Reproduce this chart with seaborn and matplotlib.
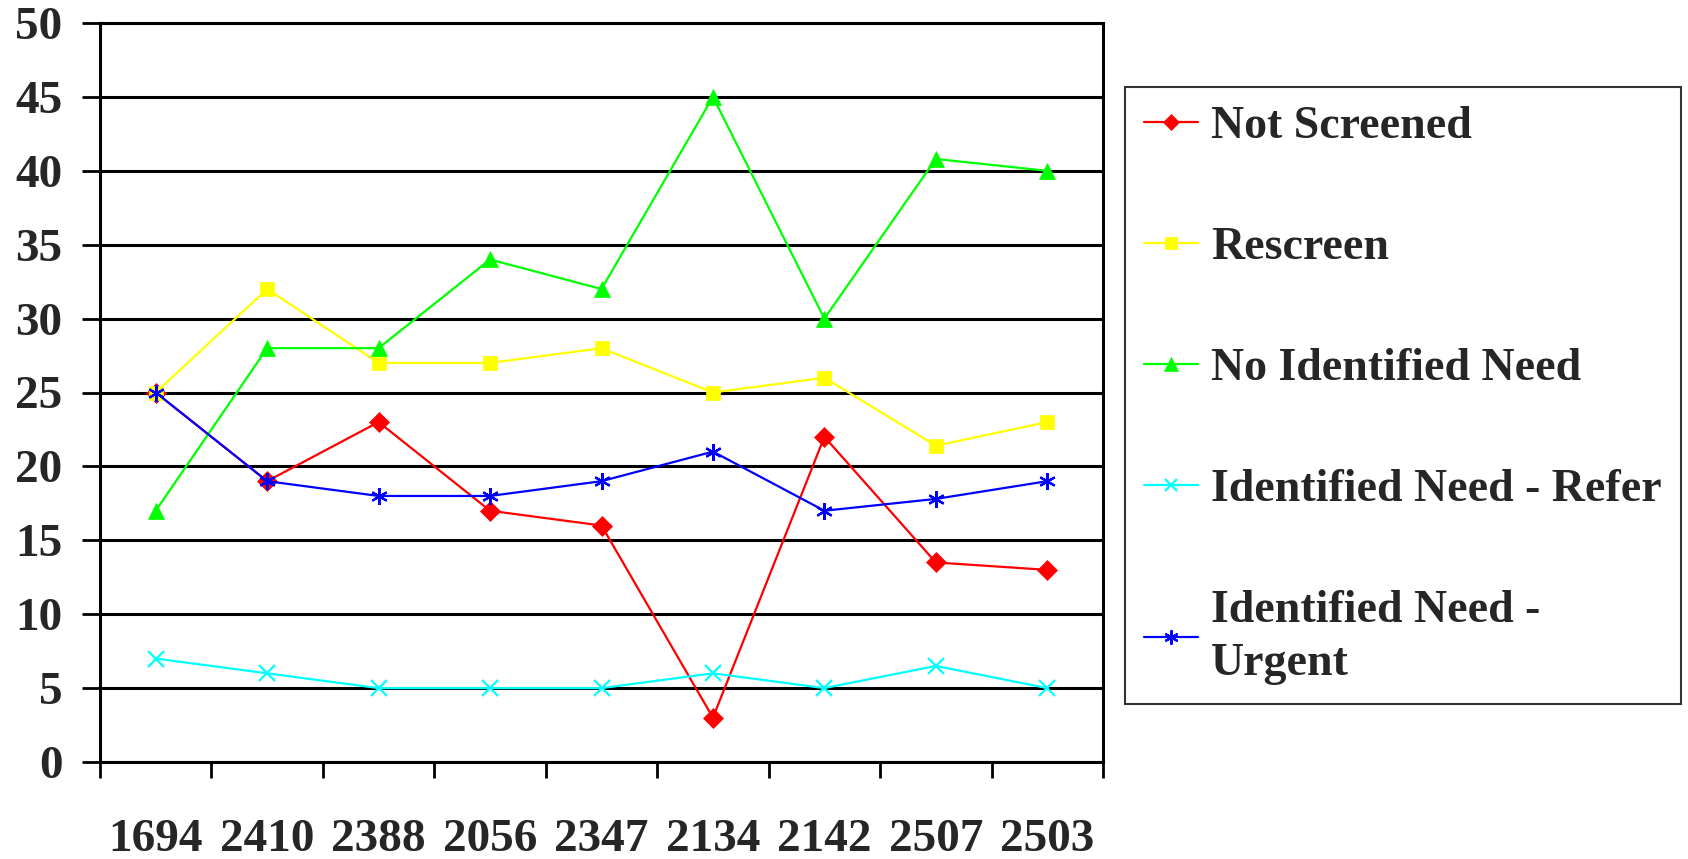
import numpy as np
import pandas as pd
import matplotlib
matplotlib.use('Agg')
import matplotlib.pyplot as plt
import seaborn as sns

# datos
sites = ['1694', '2410', '2388', '2056', '2347', '2134', '2142', '2507', '2503']
not_screened = [25, 19, 23, 17, 16, 3, 22, 13.5, 13]
rescreen = [25, 32, 27, 27, 28, 25, 26, 21.4, 23]
no_need = [17, 28, 28, 34, 32, 45, 30, 40.8, 40]
need_refer = [7, 6, 5, 5, 5, 6, 5, 6.5, 5]
need_urgent = [25, 19, 18, 18, 19, 21, 17, 17.8, 19]

series = ['Not Screened', 'Rescreen', 'No Identified Need',
          'Identified Need - Refer', 'Identified Need -\nUrgent']
colores = ['#FF0000', '#FFFF00', '#00FF00', '#00FFFF', '#0000FF']
marcadores = ['D', 's', '^', 'x', (6, 2, 0)]
tamanios = [10, 9.5, 12, 11, 12]

sns.set_style('white')
plt.rcParams['font.family'] = ['Liberation Serif', 'DejaVu Serif']
plt.rcParams['font.weight'] = 'bold'

fig = plt.figure(figsize=(16.88, 8.59), dpi=100)
ax = fig.add_axes([100 / 1688, 1 - 762 / 859, (1103 - 100) / 1688, (762 - 23) / 859])

valores = [not_screened, rescreen, no_need, need_refer, need_urgent]
for nombre, vals, c, m, ms in zip(series, valores, colores, marcadores, tamanios):
    df = pd.DataFrame({'site': sites, 'val': vals})
    linea = m in ('x', (6, 2, 0))
    sns.lineplot(data=df, x='site', y='val', ax=ax, color=c, marker=m,
                 markersize=ms, markeredgecolor=c,
                 markeredgewidth=1.6 if linea else 0.5,
                 linewidth=1.6, label=nombre, sort=False)

ax.set_xlim(-0.5, 8.5)
ax.set_ylim(0, 50)
ax.set_yticks(np.arange(0, 51, 5))
ax.yaxis.grid(True, color='black', linewidth=2.2)
ax.set_axisbelow(True)
ax.set_xlabel('')
ax.set_ylabel('')

# ticks entre categorias, etiquetas en el centro
ax.set_xticks(np.arange(-0.5, 9, 1))
ax.set_xticklabels([])
ax.set_xticks(np.arange(9), minor=True)
ax.set_xticklabels(sites, minor=True, fontsize=34, fontweight='bold')
ax.tick_params(axis='x', which='major', direction='out', length=11.5, width=2, color='black', bottom=True)
ax.tick_params(axis='x', which='minor', length=0, pad=41)
ax.tick_params(axis='y', direction='out', length=13, width=2, color='black', left=True, labelsize=34, pad=14)
for t in ax.get_yticklabels():
    t.set_fontweight('bold')

for s in ax.spines.values():
    s.set_color('black')
    s.set_linewidth(2.2)
    s.set_visible(True)

leg = ax.legend(loc='upper left', bbox_to_anchor=(1125 / 1688, 1 - 87 / 859),
                bbox_transform=fig.transFigure, borderaxespad=0, frameon=True,
                fancybox=False, edgecolor='black', prop={'size': 33, 'weight': 'bold'},
                labelspacing=1.72, handlelength=1.17, handletextpad=0.28, borderpad=0.42,
                markerscale=0.85)
for t in leg.get_texts():
    t.set_linespacing(1.35)
leg.get_frame().set_linewidth(1.5)

fig.savefig('out.png', dpi=100)
